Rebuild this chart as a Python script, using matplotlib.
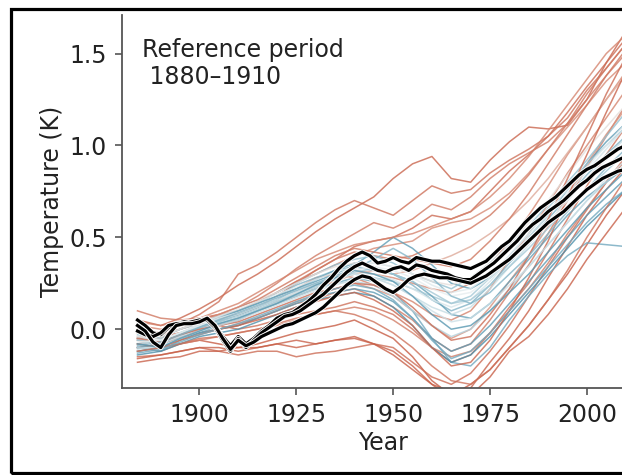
import numpy as np
import matplotlib
matplotlib.use("Agg")
import matplotlib.pyplot as plt
import matplotlib.patheffects as pe
from matplotlib.colors import LinearSegmentedColormap
from matplotlib.patches import Rectangle

# ---------------- data ----------------
model_years = [1884, 1890, 1895, 1900, 1905, 1910, 1915, 1920, 1925, 1930, 1935, 1940, 1945,
               1950, 1955, 1960, 1965, 1970, 1975, 1980, 1985, 1990, 1995, 2000, 2005, 2010]

# colour value per model: 0 = blue (low), 1 = red (high)
model_colorvals = [0.92, 0.88, 0.85, 0.9, 0.8,
                   0.95, 0.9, 0.88, 0.85, 0.93,
                   0.8, 0.82, 0.78, 0.86, 0.84, 0.7,
                   0.1, 0.15, 0.2, 0.1, 0.25, 0.05, 0.3, 0.12,
                   0.4, 0.45, 0.35, 0.55, 0.3,
                   0.9, 0.92, 0.82, 0.94, 0.88, 0.86,
                   0.5, 0.42, 0.2, 0.15, 0.48, 0.08]

model_runs = [
    [0.05, 0.02, 0.06, 0.11, 0.17, 0.24, 0.30, 0.37, 0.45, 0.53, 0.60, 0.66, 0.72, 0.82, 0.90, 0.94, 0.82, 0.80, 0.92, 1.02, 1.10, 1.09, 1.11, 1.25, 1.45, 1.62],
    [0.00, -0.02, 0.03, 0.08, 0.15, 0.30, 0.35, 0.42, 0.50, 0.58, 0.65, 0.70, 0.66, 0.62, 0.70, 0.78, 0.74, 0.76, 0.85, 0.92, 0.98, 1.05, 1.15, 1.30, 1.42, 1.55],
    [-0.05, -0.03, 0.00, 0.04, 0.08, 0.12, 0.18, 0.25, 0.33, 0.40, 0.46, 0.52, 0.58, 0.55, 0.60, 0.68, 0.65, 0.72, 0.82, 0.90, 0.96, 1.02, 1.12, 1.25, 1.38, 1.50],
    [-0.10, -0.08, -0.05, 0.00, 0.05, 0.08, 0.12, 0.18, 0.25, 0.32, 0.38, 0.45, 0.48, 0.50, 0.55, 0.62, 0.60, 0.64, 0.75, 0.86, 0.95, 1.05, 1.18, 1.32, 1.45, 1.58],
    [0.00, -0.02, 0.02, 0.05, 0.07, 0.10, 0.15, 0.20, 0.26, 0.30, 0.35, 0.40, 0.44, 0.46, 0.48, 0.55, 0.58, 0.60, 0.66, 0.74, 0.85, 0.98, 1.10, 1.22, 1.35, 1.45],
    [-0.12, -0.10, -0.08, -0.06, -0.08, -0.10, -0.08, -0.05, -0.02, 0.00, 0.02, 0.05, 0.00, -0.05, -0.15, -0.28, -0.36, -0.30, -0.22, -0.10, 0.02, 0.16, 0.30, 0.46, 0.62, 0.76],
    [-0.15, -0.14, -0.12, -0.10, -0.12, -0.14, -0.12, -0.12, -0.15, -0.13, -0.12, -0.10, -0.08, -0.10, -0.18, -0.26, -0.30, -0.24, -0.12, 0.02, 0.18, 0.34, 0.50, 0.65, 0.80, 0.92],
    [-0.05, -0.04, -0.02, 0.00, 0.02, 0.00, 0.02, 0.05, 0.08, 0.10, 0.12, 0.15, 0.12, 0.08, 0.00, -0.10, -0.18, -0.14, -0.02, 0.12, 0.25, 0.42, 0.60, 0.78, 0.95, 1.10],
    [-0.08, -0.06, -0.05, -0.02, 0.00, 0.02, 0.06, 0.10, 0.14, 0.16, 0.20, 0.22, 0.18, 0.12, 0.05, -0.05, -0.12, -0.08, 0.05, 0.20, 0.35, 0.52, 0.70, 0.88, 1.05, 1.22],
    [-0.18, -0.16, -0.15, -0.12, -0.12, -0.10, -0.10, -0.08, -0.06, -0.08, -0.06, -0.05, -0.08, -0.12, -0.20, -0.30, -0.38, -0.32, -0.18, -0.05, 0.10, 0.28, 0.45, 0.62, 0.76, 0.88],
    [-0.02, -0.04, 0.00, 0.03, 0.02, 0.05, 0.10, 0.15, 0.20, 0.24, 0.28, 0.32, 0.30, 0.28, 0.25, 0.22, 0.20, 0.25, 0.35, 0.48, 0.62, 0.78, 0.95, 1.10, 1.25, 1.40],
    [0.02, 0.00, 0.02, 0.04, 0.06, 0.08, 0.12, 0.18, 0.22, 0.28, 0.30, 0.28, 0.24, 0.20, 0.15, 0.08, 0.05, 0.10, 0.22, 0.38, 0.52, 0.68, 0.85, 1.00, 1.15, 1.30],
    [-0.06, -0.08, -0.04, -0.02, 0.00, 0.03, 0.06, 0.10, 0.15, 0.18, 0.22, 0.25, 0.22, 0.18, 0.10, 0.02, -0.05, 0.00, 0.12, 0.26, 0.40, 0.56, 0.72, 0.90, 1.06, 1.20],
    [0.10, 0.06, 0.05, 0.06, 0.08, 0.10, 0.14, 0.20, 0.26, 0.32, 0.38, 0.42, 0.40, 0.38, 0.40, 0.45, 0.50, 0.55, 0.62, 0.72, 0.84, 0.98, 1.12, 1.28, 1.42, 1.55],
    [-0.10, -0.12, -0.08, -0.06, -0.04, -0.02, 0.00, 0.02, 0.05, 0.08, 0.10, 0.12, 0.10, 0.05, -0.02, -0.10, -0.15, -0.12, -0.02, 0.10, 0.22, 0.36, 0.52, 0.66, 0.80, 0.94],
    [-0.04, -0.05, -0.02, 0.00, 0.03, 0.06, 0.10, 0.14, 0.18, 0.22, 0.26, 0.30, 0.32, 0.30, 0.32, 0.36, 0.40, 0.45, 0.52, 0.60, 0.70, 0.82, 0.96, 1.10, 1.25, 1.38],
    [-0.05, -0.08, -0.02, 0.02, 0.05, 0.08, 0.12, 0.16, 0.22, 0.26, 0.30, 0.35, 0.42, 0.50, 0.44, 0.35, 0.25, 0.22, 0.28, 0.38, 0.50, 0.62, 0.76, 0.90, 1.02, 1.12],
    [-0.10, -0.12, -0.06, -0.02, 0.02, 0.05, 0.10, 0.14, 0.18, 0.22, 0.25, 0.28, 0.26, 0.20, 0.10, -0.05, -0.18, -0.20, -0.10, 0.05, 0.18, 0.30, 0.40, 0.47, 0.46, 0.45],
    [-0.08, -0.06, -0.03, 0.00, 0.04, 0.08, 0.12, 0.18, 0.24, 0.28, 0.32, 0.34, 0.32, 0.30, 0.24, 0.16, 0.10, 0.14, 0.24, 0.36, 0.48, 0.60, 0.72, 0.84, 0.95, 1.05],
    [-0.12, -0.10, -0.05, -0.02, 0.00, 0.02, 0.06, 0.10, 0.14, 0.18, 0.20, 0.22, 0.20, 0.15, 0.06, -0.05, -0.12, -0.08, 0.02, 0.14, 0.26, 0.38, 0.50, 0.62, 0.72, 0.82],
    [-0.06, -0.04, 0.00, 0.04, 0.07, 0.10, 0.14, 0.20, 0.25, 0.30, 0.35, 0.38, 0.40, 0.36, 0.30, 0.26, 0.22, 0.28, 0.36, 0.46, 0.56, 0.68, 0.80, 0.92, 1.05, 1.18],
    [-0.14, -0.12, -0.08, -0.04, -0.02, 0.00, 0.04, 0.08, 0.12, 0.16, 0.18, 0.20, 0.18, 0.12, 0.02, -0.10, -0.18, -0.14, -0.04, 0.08, 0.20, 0.32, 0.44, 0.56, 0.66, 0.76],
    [-0.03, -0.05, 0.00, 0.03, 0.06, 0.10, 0.14, 0.18, 0.22, 0.25, 0.28, 0.30, 0.28, 0.26, 0.22, 0.18, 0.14, 0.18, 0.28, 0.40, 0.52, 0.66, 0.78, 0.90, 1.00, 1.10],
    [-0.10, -0.08, -0.04, 0.01, 0.06, 0.10, 0.14, 0.18, 0.22, 0.27, 0.32, 0.36, 0.34, 0.30, 0.26, 0.18, 0.08, 0.06, 0.14, 0.26, 0.38, 0.50, 0.62, 0.72, 0.80, 0.88],
    [-0.08, -0.06, -0.02, 0.02, 0.05, 0.08, 0.12, 0.16, 0.20, 0.24, 0.28, 0.30, 0.28, 0.24, 0.18, 0.12, 0.08, 0.12, 0.22, 0.34, 0.46, 0.58, 0.70, 0.82, 0.94, 1.04],
    [-0.05, -0.08, -0.04, 0.00, 0.03, 0.06, 0.10, 0.15, 0.20, 0.24, 0.27, 0.30, 0.30, 0.27, 0.22, 0.16, 0.12, 0.16, 0.26, 0.38, 0.50, 0.62, 0.74, 0.86, 0.98, 1.10],
    [-0.10, -0.10, -0.05, -0.01, 0.03, 0.06, 0.10, 0.14, 0.18, 0.22, 0.25, 0.26, 0.24, 0.18, 0.10, 0.02, -0.04, 0.00, 0.10, 0.22, 0.34, 0.46, 0.58, 0.70, 0.80, 0.90],
    [-0.02, -0.04, 0.00, 0.04, 0.08, 0.12, 0.16, 0.20, 0.25, 0.30, 0.34, 0.36, 0.36, 0.34, 0.30, 0.26, 0.24, 0.28, 0.36, 0.46, 0.58, 0.70, 0.84, 0.98, 1.10, 1.22],
    [-0.06, -0.07, -0.03, 0.01, 0.04, 0.07, 0.11, 0.15, 0.19, 0.23, 0.27, 0.31, 0.33, 0.30, 0.26, 0.20, 0.14, 0.16, 0.24, 0.34, 0.44, 0.55, 0.66, 0.76, 0.86, 0.96],
    [-0.05, -0.07, -0.03, 0.00, 0.02, 0.04, 0.08, 0.12, 0.16, 0.20, 0.22, 0.25, 0.24, 0.20, 0.12, 0.02, -0.06, -0.04, 0.08, 0.22, 0.40, 0.60, 0.82, 1.05, 1.28, 1.48],
    [-0.08, -0.10, -0.06, -0.03, 0.00, 0.02, 0.05, 0.08, 0.12, 0.15, 0.18, 0.20, 0.16, 0.10, 0.02, -0.10, -0.20, -0.18, -0.06, 0.10, 0.28, 0.48, 0.72, 0.95, 1.18, 1.40],
    [0.04, 0.02, 0.04, 0.06, 0.10, 0.14, 0.20, 0.26, 0.32, 0.38, 0.42, 0.46, 0.48, 0.50, 0.52, 0.56, 0.60, 0.64, 0.72, 0.82, 0.94, 1.08, 1.22, 1.36, 1.50, 1.60],
    [-0.16, -0.14, -0.12, -0.10, -0.10, -0.12, -0.10, -0.08, -0.10, -0.08, -0.06, -0.04, -0.08, -0.14, -0.22, -0.30, -0.34, -0.36, -0.26, -0.12, -0.04, 0.08, 0.22, 0.38, 0.52, 0.66],
    [-0.12, -0.10, -0.08, -0.05, -0.04, -0.02, 0.00, 0.03, 0.06, 0.08, 0.10, 0.08, 0.04, -0.02, -0.10, -0.20, -0.28, -0.30, -0.22, -0.10, 0.02, 0.16, 0.32, 0.50, 0.66, 0.82],
    [0.00, -0.02, 0.02, 0.05, 0.08, 0.12, 0.16, 0.22, 0.28, 0.34, 0.40, 0.44, 0.42, 0.40, 0.38, 0.36, 0.34, 0.38, 0.48, 0.60, 0.74, 0.90, 1.06, 1.22, 1.38, 1.52],
    [-0.07, -0.06, -0.02, 0.02, 0.06, 0.09, 0.13, 0.17, 0.21, 0.25, 0.29, 0.32, 0.34, 0.32, 0.28, 0.22, 0.18, 0.20, 0.28, 0.38, 0.48, 0.58, 0.70, 0.82, 0.92, 1.02],
    [-0.11, -0.09, -0.05, -0.01, 0.02, 0.05, 0.09, 0.13, 0.17, 0.21, 0.24, 0.27, 0.28, 0.24, 0.18, 0.10, 0.04, 0.06, 0.14, 0.24, 0.34, 0.46, 0.58, 0.70, 0.82, 0.92],
    [-0.09, -0.07, -0.03, 0.01, 0.05, 0.09, 0.13, 0.17, 0.21, 0.25, 0.29, 0.33, 0.38, 0.44, 0.38, 0.28, 0.18, 0.14, 0.20, 0.30, 0.40, 0.52, 0.64, 0.76, 0.88, 0.98],
    [-0.13, -0.11, -0.07, -0.03, 0.00, 0.03, 0.07, 0.11, 0.15, 0.19, 0.22, 0.24, 0.22, 0.16, 0.06, -0.06, -0.16, -0.12, -0.02, 0.10, 0.22, 0.34, 0.46, 0.58, 0.68, 0.76],
    [-0.04, -0.06, -0.02, 0.03, 0.07, 0.11, 0.15, 0.19, 0.23, 0.27, 0.31, 0.34, 0.36, 0.34, 0.30, 0.24, 0.20, 0.22, 0.30, 0.40, 0.52, 0.64, 0.76, 0.88, 1.00, 1.12],
    [-0.08, -0.10, -0.05, -0.01, 0.03, 0.06, 0.10, 0.14, 0.19, 0.24, 0.28, 0.32, 0.30, 0.26, 0.18, 0.08, 0.00, 0.02, 0.10, 0.20, 0.30, 0.42, 0.54, 0.66, 0.76, 0.86],
]

obs_years = list(range(1884, 2013, 2))

obs_a = [0.05, 0.02, -0.02, -0.03, 0.01, 0.03, 0.04, 0.04, 0.05, 0.06, 0.02, -0.04, -0.09, -0.04,
         -0.08, -0.05, -0.01, 0.02, 0.06, 0.08, 0.09, 0.12, 0.15, 0.19, 0.24, 0.28, 0.33, 0.37,
         0.40, 0.42, 0.40, 0.36, 0.37, 0.39, 0.37, 0.36, 0.39, 0.38, 0.37, 0.37, 0.36, 0.35,
         0.34, 0.33, 0.35, 0.37, 0.41, 0.45, 0.48, 0.53, 0.58, 0.62, 0.66, 0.69, 0.72, 0.76,
         0.80, 0.84, 0.87, 0.89, 0.92, 0.95, 0.98, 1.00, 1.01]
obs_b = [-0.01, -0.03, -0.04, -0.02, 0.02, 0.03, 0.03, 0.04, 0.05, 0.05, 0.01, -0.06, -0.12, -0.05,
         -0.10, -0.06, -0.02, 0.01, 0.04, 0.07, 0.08, 0.10, 0.13, 0.16, 0.19, 0.23, 0.27, 0.31,
         0.34, 0.36, 0.34, 0.32, 0.31, 0.33, 0.34, 0.32, 0.35, 0.34, 0.32, 0.31, 0.30, 0.28,
         0.27, 0.27, 0.30, 0.33, 0.36, 0.40, 0.44, 0.48, 0.53, 0.57, 0.60, 0.64, 0.67, 0.70,
         0.74, 0.78, 0.81, 0.85, 0.88, 0.90, 0.92, 0.94, 0.96]
obs_c = [0.02, -0.01, -0.07, -0.10, -0.03, 0.02, 0.03, 0.03, 0.04, 0.06, 0.02, -0.05, -0.11, -0.06,
         -0.09, -0.07, -0.04, -0.02, 0.00, 0.02, 0.03, 0.05, 0.07, 0.09, 0.12, 0.16, 0.20, 0.24,
         0.27, 0.29, 0.28, 0.25, 0.22, 0.20, 0.23, 0.27, 0.29, 0.30, 0.29, 0.28, 0.28, 0.27,
         0.26, 0.25, 0.27, 0.29, 0.32, 0.35, 0.38, 0.42, 0.46, 0.50, 0.54, 0.58, 0.61, 0.64,
         0.68, 0.72, 0.76, 0.79, 0.82, 0.84, 0.86, 0.87, 0.88]

y_ticks = [0.0, 0.5, 1.0, 1.5]
x_ticks = [1900, 1925, 1950, 1975, 2000]

# ---------------- figure ----------------
W, H = 622, 475
fig = plt.figure(figsize=(W / 100, H / 100), dpi=100)
fig.patch.set_facecolor("white")

ax_left, ax_right, ax_bottom, ax_top = 122, 645, 388, 15
ax = fig.add_axes([ax_left / W, (H - ax_bottom) / H,
                   (ax_right - ax_left) / W, (ax_bottom - ax_top) / H])

cmap = LinearSegmentedColormap.from_list(
    "bluered", ["#3d85a3", "#94c0d0", "#e6eef0", "#dc9a86", "#c24e35"])

for run, cv in zip(model_runs, model_colorvals):
    ax.plot(model_years, run, color=cmap(cv), lw=1.1, alpha=0.8, zorder=2)

for obs in (obs_a, obs_b, obs_c):
    ax.plot(obs_years, obs, color="black", lw=2.3, zorder=5,
            path_effects=[pe.withStroke(linewidth=3.6, foreground="white")])

ax.set_xlim(1880, 2015)
ax.set_ylim(-0.32, 1.71)
ax.set_xticks(x_ticks)
ax.set_yticks(y_ticks)
ax.set_yticklabels([f"{v:.1f}" for v in y_ticks])

for s in ("top", "right"):
    ax.spines[s].set_visible(False)
for s in ("left", "bottom"):
    ax.spines[s].set_color("#555555")
    ax.spines[s].set_linewidth(1.3)

FS = 17
ax.tick_params(axis="both", which="major", labelsize=FS, length=5, width=1.2,
               color="#555555", labelcolor="#222222", pad=6)
ax.set_xlabel("Year", fontsize=FS, color="#222222", labelpad=3)
ax.set_ylabel("Temperature (K)", fontsize=FS, color="#222222", labelpad=4)

ax.text(0.038, 0.937, "Reference period\n 1880\u20131910", transform=ax.transAxes,
        ha="left", va="top", fontsize=FS, color="#222222", linespacing=1.15)

# outer frame (left, top, bottom visible; right edge cropped)
frame = Rectangle((11 / W, 2 / H), 1.2, 1 - 11 / H, transform=fig.transFigure,
                  fill=False, edgecolor="black", lw=2.3, clip_on=False)
fig.patches.append(frame)

fig.savefig("out.png", dpi=100)
